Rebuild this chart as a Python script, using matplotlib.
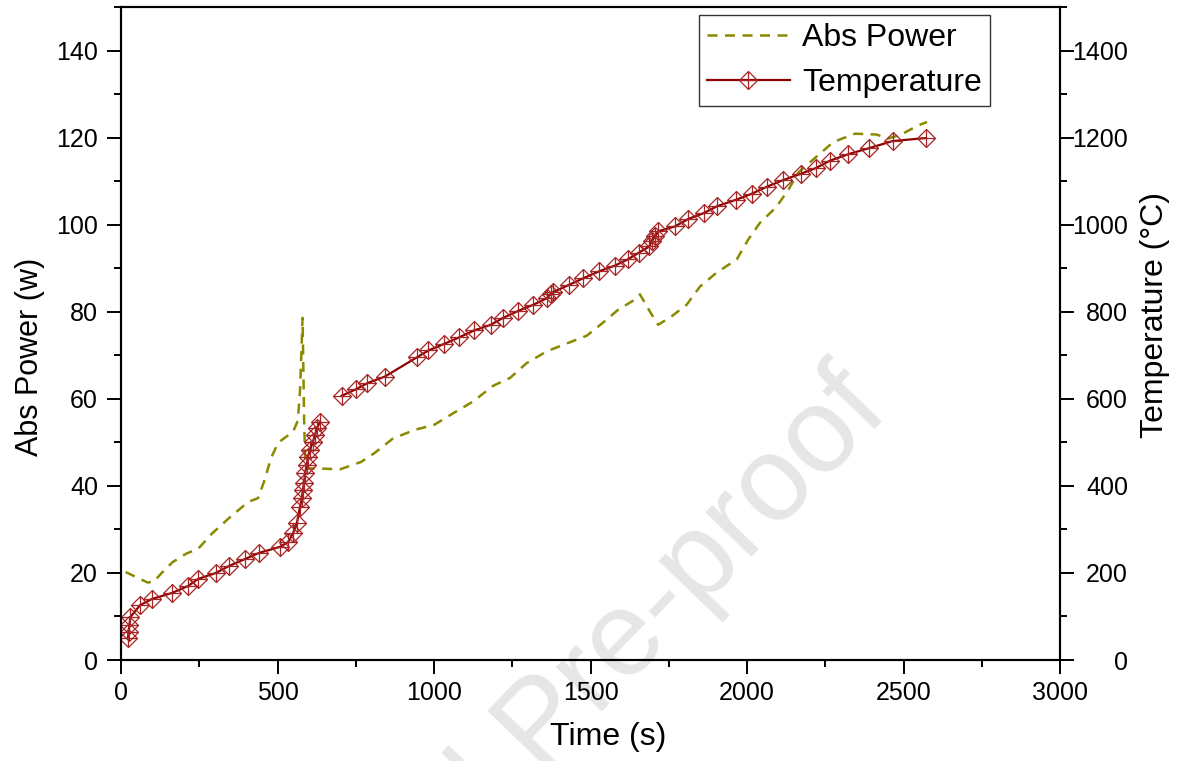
import numpy as np
import matplotlib
matplotlib.use('Agg')
import matplotlib.pyplot as plt
from matplotlib.ticker import MultipleLocator

plt.rcParams['font.family'] = ['Liberation Sans', 'DejaVu Sans']

# absorbed power (left axis)
power_time = [15, 50, 85, 105, 130, 165, 210, 246, 290, 345, 406, 438, 457, 480,
              502, 550, 565, 572, 576, 580, 583, 585, 588, 592, 630, 700, 767,
              811, 869, 940, 1000, 1064, 1125, 1189, 1243, 1296, 1360, 1413,
              1488, 1540, 1589, 1642, 1658, 1690, 1716, 1760, 1807, 1850, 1903,
              1967, 2004, 2041, 2093, 2132, 2164, 2228, 2276, 2345, 2414, 2451,
              2489, 2547, 2575]
power_w = [20.2, 19.0, 17.8, 18.0, 20.0, 22.5, 24.5, 25.5, 29.0, 32.6, 36.3, 37.2,
           41.0, 46.5, 49.9, 52.5, 55.0, 62.0, 70.0, 78.6, 65.0, 55.0, 47.0, 44.0,
           44.0, 43.8, 45.5, 47.6, 50.9, 52.9, 54.0, 56.8, 59.4, 63.0, 64.8, 68.2,
           70.9, 72.4, 74.5, 77.5, 80.5, 82.8, 84.0, 80.0, 77.0, 79.0, 81.6, 85.8,
           89.0, 92.0, 96.6, 100.4, 104.0, 108.0, 112.0, 116.0, 119.0, 120.9,
           120.7, 119.8, 120.6, 122.8, 123.6]

# temperature (right axis), nan where the logger dropped out
temp_time = [22, 24, 27, 30, 61, 98, 163, 214, 246, 303, 345, 396, 441, 508, 534,
             550, 562, 572, 578, 581, 585, 588, 594, 597, 604, 613, 620, 626, 636,
             670, 705, 751, 787, 843, 947, 982, 1032, 1080, 1128, 1181, 1221, 1269,
             1317, 1360, 1373, 1380, 1432, 1477, 1528, 1578, 1621, 1655, 1688, 1695,
             1706, 1717, 1770, 1812, 1863, 1903, 1964, 2015, 2063, 2114, 2172, 2220,
             2265, 2324, 2391, 2465, 2571]
temp_c = [50, 65, 80, 99, 126, 140, 154, 170, 186, 200, 216, 232, 246, 260, 271,
          292, 315, 352, 372, 391, 407, 430, 448, 467, 483, 501, 517, 533, 547,
          np.nan, 607, 622, 636, 651, 696, 711, 726, 741, 757, 770, 786, 802, 816,
          831, 841, 845, 862, 877, 893, 906, 921, 936, 950, 962, 973, 985, 996,
          1013, 1027, 1042, 1057, 1071, 1087, 1102, 1117, 1130, 1147, 1162, 1176,
          1192, 1199]

fig = plt.figure(figsize=(11.84, 7.61), dpi=100)
fig.text(0.4595, 0.045, 'Journal Pre-proof', fontsize=87, color='#e6e6e6',
         rotation=46, ha='center', va='center', zorder=-5)

ax = fig.add_axes([0.1022, 0.1327, 0.7931, 0.8581])
ax2 = ax.twinx()
ax.patch.set_visible(False)
ax2.patch.set_visible(False)

p1, = ax.plot(power_time, power_w, color='#8a8a00', lw=1.8, dashes=(4, 3))

red = '#8e0000'
mk = '#a82424'
t1, = ax2.plot(temp_time, temp_c, color=red, lw=1.6, marker='D', ms=9,
               mfc='none', mec=mk, mew=0.9)
t2, = ax2.plot(temp_time, temp_c, ls='none', marker='+', ms=12.7, mec=mk, mew=0.9)

ax.set_xlim(0, 3000)
ax.set_ylim(0, 150)
ax2.set_ylim(0, 1500)
ax.xaxis.set_major_locator(MultipleLocator(500))
ax.xaxis.set_minor_locator(MultipleLocator(250))
ax.yaxis.set_major_locator(MultipleLocator(20))
ax.yaxis.set_minor_locator(MultipleLocator(10))
ax2.yaxis.set_major_locator(MultipleLocator(200))
ax2.yaxis.set_minor_locator(MultipleLocator(100))

for a in (ax, ax2):
    for s in a.spines.values():
        s.set_linewidth(1.5)
ax.tick_params(which='major', direction='out', length=10, width=1.4, labelsize=18)
ax.tick_params(which='minor', direction='out', length=5, width=1.4)
ax.tick_params(axis='y', which='major', pad=6.5)
ax.tick_params(axis='x', which='major', pad=5)
ax.tick_params(top=False, right=False, which='both')
ax2.tick_params(which='major', direction='out', length=10, width=1.4,
                labelsize=18, pad=39)
ax2.tick_params(which='minor', direction='out', length=5, width=1.4)
for lab in ax2.get_yticklabels():
    lab.set_ha('right')

ax.set_xlabel('Time (s)', fontsize=23, va='center')
ax.xaxis.set_label_coords(0.519, -0.118)
ax.set_ylabel('Abs Power (w)', fontsize=22, va='center')
ax.yaxis.set_label_coords(-0.097, 0.464)
ax2.set_ylabel('Temperature (°C)', fontsize=23, va='center')
ax2.yaxis.set_label_coords(1.101, 0.528)

leg = ax2.legend([p1, (t1, t2)], ['Abs Power', 'Temperature'], loc='upper right',
                 bbox_to_anchor=(0.9255, 0.988), borderaxespad=0, fontsize=23,
                 numpoints=1, handlelength=2.6, handletextpad=0.4,
                 labelspacing=0.47, borderpad=0.25, fancybox=False,
                 framealpha=1, edgecolor='#333333')
leg.get_frame().set_linewidth(1.0)

fig.savefig('out.png', dpi=100)
